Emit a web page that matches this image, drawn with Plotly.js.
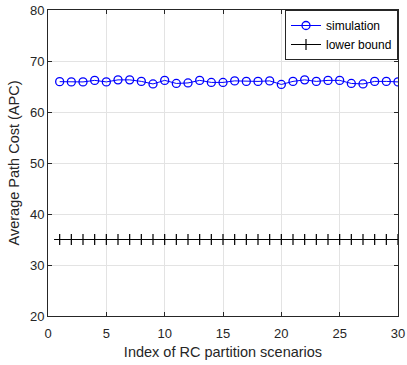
<!DOCTYPE html>
<html><head><meta charset="utf-8">
<script src="https://cdn.plot.ly/plotly-3.0.1.min.js"></script>
<style>body{margin:0;padding:0;background:#fff}#chart{width:407px;height:365px}</style>
</head><body><div id="chart"></div>
<script>
const scenarioIndex = [1,2,3,4,5,6,7,8,9,10,11,12,13,14,15,16,17,18,19,20,21,22,23,24,25,26,27,28,29,30];
const simulationAPC = [65.95,65.9,65.9,66.2,65.9,66.3,66.3,66.0,65.5,66.2,65.6,65.7,66.2,65.8,65.8,66.1,66.0,66.0,66.1,65.4,66.0,66.3,66.0,66.2,66.2,65.6,65.5,66.0,66.0,65.9];
const lowerBoundAPC = [35,35,35,35,35,35,35,35,35,35,35,35,35,35,35,35,35,35,35,35,35,35,35,35,35,35,35,35,35,35];

const traces = [
  {x: scenarioIndex, y: simulationAPC, name: 'simulation', mode: 'lines+markers',
   line: {color: '#0000ff', width: 1},
   marker: {symbol: 'circle-open', size: 8, color: '#0000ff', line: {width: 1.3, color: '#0000ff'}}},
  {x: scenarioIndex, y: lowerBoundAPC, name: 'lower bound', mode: 'lines+markers',
   line: {color: '#000000', width: 1},
   marker: {symbol: 'cross-thin-open', size: 8, color: '#000000', line: {width: 1.2, color: '#000000'}}}
];

const axisCommon = {showline: true, mirror: 'ticks', linecolor: '#262626', linewidth: 1,
  ticks: 'inside', ticklen: 4, tickcolor: '#262626', showgrid: true, gridcolor: '#e3e3e3', gridwidth: 1,
  zeroline: false, tickfont: {family: 'Liberation Sans, Arial, sans-serif', size: 13, color: '#262626'}};

const layout = {
  width: 407, height: 365,
  margin: {l: 48, r: 9, t: 10, b: 49},
  paper_bgcolor: '#ffffff', plot_bgcolor: '#ffffff',
  font: {family: 'Liberation Sans, Arial, sans-serif', color: '#262626'},
  xaxis: Object.assign({}, axisCommon, {range: [0, 30], tickvals: [0,5,10,15,20,25,30], ticklabelstandoff: 5,
    title: {text: 'Index of RC partition scenarios', font: {size: 14.5, color: '#262626'}, standoff: 7}}),
  yaxis: Object.assign({}, axisCommon, {range: [20, 80], tickvals: [20,30,40,50,60,70,80],
    title: {text: 'Average Path Cost (APC)', font: {size: 14.5, color: '#262626'}, standoff: 6}}),
  showlegend: true,
  legend: {x: 1, xanchor: 'right', y: 1, yanchor: 'top', bgcolor: '#ffffff', bordercolor: '#262626', borderwidth: 1,
    font: {size: 12, color: '#000000'}, itemwidth: 30, tracegroupgap: 0}
};

Plotly.newPlot('chart', traces, layout, {displayModeBar: false, staticPlot: true});
</script></body></html>
